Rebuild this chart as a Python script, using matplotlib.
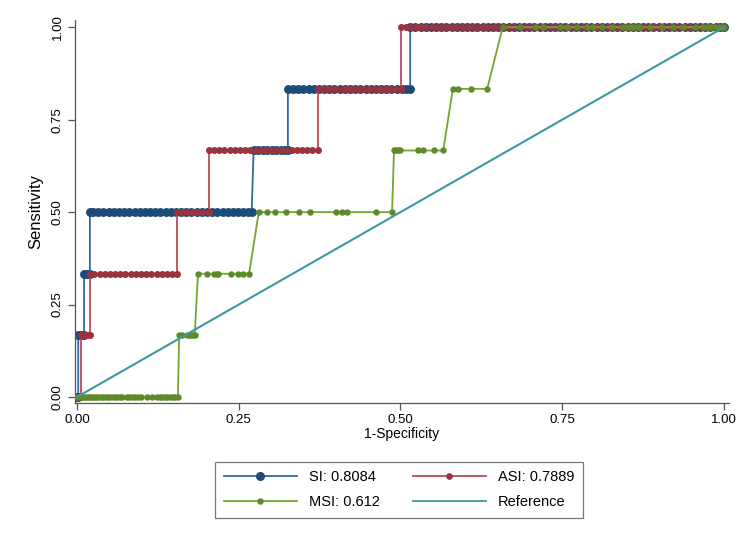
import matplotlib
matplotlib.use("Agg")
import matplotlib.pyplot as plt
from matplotlib.lines import Line2D

plt.rcParams['font.family'] = ['Liberation Sans', 'DejaVu Sans']

# ---- data (1-specificity per sensitivity level) ----
levels = [0.0, 1/6, 2/6, 3/6, 4/6, 5/6, 1.0]

si_levels_x = [
    [0.0, 0.002],
    [0.002, 0.006, 0.011],
    [0.011, 0.015, 0.020],
    [0.020, 0.025, 0.033, 0.041, 0.049, 0.057, 0.065, 0.073, 0.081, 0.089, 0.097, 0.105,
     0.113, 0.121, 0.129, 0.137, 0.145, 0.153, 0.161, 0.169, 0.177, 0.185, 0.193, 0.201,
     0.209, 0.217, 0.225, 0.233, 0.241, 0.249, 0.257, 0.264, 0.270],
    [0.273, 0.280, 0.287, 0.294, 0.301, 0.308, 0.315, 0.321, 0.326],
    [0.326, 0.334, 0.342, 0.350, 0.358, 0.366, 0.374, 0.382, 0.390, 0.398, 0.406, 0.414,
     0.422, 0.430, 0.438, 0.446, 0.454, 0.462, 0.470, 0.478, 0.486, 0.494, 0.502, 0.509, 0.515],
    [0.515, 0.523, 0.531, 0.539, 0.547, 0.555, 0.563, 0.571, 0.579, 0.587, 0.595, 0.603,
     0.611, 0.619, 0.627, 0.635, 0.643, 0.651, 0.659, 0.667, 0.675, 0.683, 0.691, 0.699,
     0.707, 0.715, 0.723, 0.731, 0.739, 0.747, 0.755, 0.763, 0.771, 0.779, 0.787, 0.795,
     0.803, 0.811, 0.819, 0.827, 0.835, 0.843, 0.851, 0.859, 0.867, 0.875, 0.883, 0.891,
     0.899, 0.907, 0.915, 0.923, 0.931, 0.939, 0.947, 0.955, 0.963, 0.971, 0.979, 0.987,
     0.994, 1.0],
]

asi_levels_x = [
    [0.0, 0.007],
    [0.007, 0.011, 0.015, 0.020],
    [0.020, 0.027, 0.035, 0.043, 0.051, 0.059, 0.067, 0.075, 0.083, 0.091, 0.099, 0.107,
     0.115, 0.123, 0.131, 0.139, 0.147, 0.155],
    [0.155, 0.163, 0.171, 0.179, 0.187, 0.195, 0.204],
    [0.204, 0.212, 0.220, 0.228, 0.236, 0.244, 0.252, 0.260, 0.268, 0.276, 0.284, 0.292,
     0.300, 0.308, 0.316, 0.324, 0.332, 0.340, 0.348, 0.356, 0.364, 0.372],
    [0.372, 0.380, 0.388, 0.396, 0.404, 0.412, 0.420, 0.428, 0.436, 0.444, 0.452, 0.460,
     0.468, 0.476, 0.484, 0.492, 0.501],
    [0.501, 0.508, 0.516, 0.524, 0.532, 0.540, 0.548, 0.556, 0.564, 0.572, 0.580, 0.588,
     0.596, 0.604, 0.612, 0.620, 0.628, 0.636, 0.644, 0.652, 0.660, 0.668, 0.676, 0.684,
     0.692, 0.700, 0.708, 0.716, 0.724, 0.732, 0.740, 0.748, 0.756, 0.764, 0.772, 0.780,
     0.788, 0.796, 0.804, 0.812, 0.820, 0.828, 0.836, 0.844, 0.852, 0.860, 0.868, 0.876,
     0.884, 0.892, 0.900, 0.908, 0.916, 0.924, 0.932, 0.940, 0.948, 0.956, 0.964, 0.972,
     0.980, 0.988, 0.995, 1.0],
]

msi_levels_x = [
    [0.0, 0.003, 0.006, 0.009, 0.012, 0.015, 0.018, 0.021, 0.025, 0.028, 0.031, 0.035,
     0.038, 0.042, 0.046, 0.050, 0.054, 0.059, 0.062, 0.066, 0.070, 0.077, 0.081, 0.085,
     0.090, 0.094, 0.099, 0.108, 0.116, 0.124, 0.128, 0.131, 0.136, 0.139, 0.144, 0.148,
     0.152, 0.156],
    [0.158, 0.162, 0.170, 0.173, 0.176, 0.179, 0.182],
    [0.187, 0.201, 0.212, 0.216, 0.218, 0.238, 0.249, 0.257, 0.266],
    [0.281, 0.294, 0.306, 0.323, 0.343, 0.360, 0.400, 0.410, 0.417, 0.462, 0.487],
    [0.490, 0.493, 0.496, 0.499, 0.527, 0.535, 0.552, 0.566],
    [0.581, 0.589, 0.609, 0.634],
    [0.658, 0.685, 0.708, 0.720, 0.747, 0.757, 0.773, 0.788, 0.798, 0.811, 0.827, 0.842,
     0.848, 0.854, 0.860, 0.865, 0.870, 0.886, 0.904, 0.921, 0.937, 0.955, 0.968, 0.975,
     0.980, 0.986, 0.992, 0.997, 1.0],
]

ref_x = [0.0, 1.0]
ref_y = [0.0, 1.0]

labels = ["SI: 0.8084", "ASI: 0.7889", "MSI: 0.612", "Reference"]
xticks = [0.0, 0.25, 0.5, 0.75, 1.0]
tick_labels = ["0.00", "0.25", "0.50", "0.75", "1.00"]


def flatten(level_xs):
    xs, ys = [], []
    for lv, xl in zip(levels, level_xs):
        xs.extend(xl)
        ys.extend([lv] * len(xl))
    return xs, ys


si_x, si_y = flatten(si_levels_x)
asi_x, asi_y = flatten(asi_levels_x)
msi_x, msi_y = flatten(msi_levels_x)

# ---- figure ----
fig = plt.figure(figsize=(7.5, 5.46), dpi=100)
ax = fig.add_axes([0.100, 0.262, 0.872, 0.701])

c_si_m, c_si_l = "#1d4b78", "#3467a3"
c_asi_m, c_asi_l = "#9a3340", "#c24a5b"
c_msi_m, c_msi_l = "#5e8a28", "#76a531"
c_ref = "#3a9aa0"

ax.plot(si_x, si_y, color=c_si_l, lw=1.3, zorder=2)
ax.plot(si_x, si_y, ls="none", marker="o", ms=5.4, mfc=c_si_m, mec=c_si_m, zorder=2.1)
ax.plot(asi_x, asi_y, color=c_asi_l, lw=1.3, zorder=3)
ax.plot(asi_x, asi_y, ls="none", marker="o", ms=4.0, mfc=c_asi_m, mec=c_asi_m, zorder=3.1)
ax.plot(msi_x, msi_y, color=c_msi_l, lw=1.3, zorder=4)
ax.plot(msi_x, msi_y, ls="none", marker="o", ms=3.6, mfc=c_msi_m, mec=c_msi_m, zorder=4.1)
ax.plot(ref_x, ref_y, color=c_ref, lw=1.5, zorder=5)

ax.set_xlim(-0.003, 1.0077)
ax.set_ylim(-0.016, 1.019)

for s in ["top", "right"]:
    ax.spines[s].set_visible(False)
for s in ["left", "bottom"]:
    ax.spines[s].set_color("#555555")
    ax.spines[s].set_linewidth(0.9)

ax.set_xticks(xticks)
ax.set_xticklabels(tick_labels, fontsize=9.5)
ax.set_yticks(xticks)
ax.set_yticklabels(tick_labels, fontsize=9.5, rotation=90, va="center")
ax.tick_params(axis="both", direction="out", length=5, width=0.9, color="#555555", pad=3)

ax.set_xlabel("1-Specificity", fontsize=10, labelpad=1)
ax.set_ylabel("Sensitivity", fontsize=12, labelpad=6)

h_si = Line2D([], [], color=c_si_l, lw=1.3, marker="o", ms=5.5, mfc=c_si_m, mec=c_si_m)
h_asi = Line2D([], [], color=c_asi_l, lw=1.3, marker="o", ms=3.8, mfc=c_asi_m, mec=c_asi_m)
h_msi = Line2D([], [], color=c_msi_l, lw=1.3, marker="o", ms=3.6, mfc=c_msi_m, mec=c_msi_m)
h_ref = Line2D([], [], color=c_ref, lw=1.3)
# legend fills column-wise: order so rows read SI, ASI / MSI, Reference
leg = fig.legend([h_si, h_msi, h_asi, h_ref],
                 [labels[0], labels[2], labels[1], labels[3]],
                 ncol=2, loc="center", bbox_to_anchor=(0.532, 0.103),
                 fontsize=10.5, frameon=True, fancybox=False, edgecolor="#555555",
                 handlelength=5.0, handletextpad=0.8, columnspacing=2.3,
                 borderpad=0.6, labelspacing=0.75)
leg.get_frame().set_linewidth(0.9)

fig.savefig("out.png", dpi=100, facecolor="white")
